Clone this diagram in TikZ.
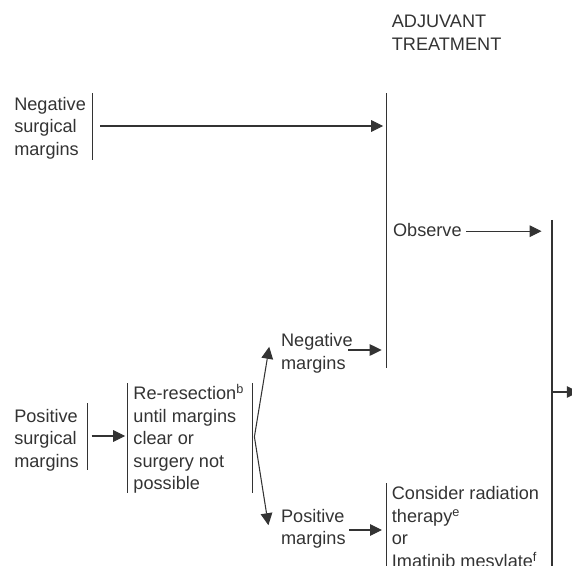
\documentclass[tikz,border=0pt]{standalone}
\usepackage{fontspec}
\setmainfont{Liberation Sans}
\usetikzlibrary{arrows.meta}
\definecolor{ink}{gray}{0.2}

\tikzset{
  txt/.style={inner sep=0pt, anchor=north west, align=left, text=ink,
    font=\fontsize{12.9}{16}\selectfont},
  bar/.style={draw=ink, line width=0.75pt},
  arr/.style={draw=ink, line width=0.75pt, -{Triangle[length=0.3cm, width=0.29cm]}}
}

\begin{document}
\begin{tikzpicture}
  \useasboundingbox (0cm,0cm) rectangle (14.3cm,-14.125cm);
  \node[txt] (adj) at (9.79cm,-0.37cm) {ADJUVANT\\TREATMENT};
  \node[txt] (negsm) at (0.35cm,-2.42cm) {Negative\\surgical\\margins};
  \node[txt] (obs) at (9.82cm,-5.58cm) {Observe};
  \node[txt] (negm) at (7.02cm,-8.33cm) {Negative\\margins};
  \node[txt] (possm) at (0.35cm,-10.22cm) {Positive\\surgical\\margins};
  \node[txt] (reres) at (3.33cm,-9.6cm) {Re-resection\textsuperscript{b}\\until margins\\clear or\\surgery not\\possible};
  \node[txt] (posm) at (7.02cm,-12.72cm) {Positive\\margins};
  \node[txt] (rad) at (9.79cm,-12.16cm) {Consider radiation\\therapy\textsuperscript{e}\\or\\Imatinib mesylate\textsuperscript{f}};
  \coordinate (negbartop) at (2.31cm,-2.33cm);
  \coordinate (negbarbot) at (2.31cm,-4cm);
  \coordinate (adjtop) at (9.66cm,-2.33cm);
  \coordinate (adjbot) at (9.66cm,-9.2cm);
  \coordinate (outtop) at (13.8cm,-5.5cm);
  \coordinate (outbot) at (13.8cm,-14.2cm);
  \coordinate (posbartop) at (2.19cm,-10.08cm);
  \coordinate (posbarbot) at (2.19cm,-11.75cm);
  \coordinate (resltop) at (3.19cm,-9.58cm);
  \coordinate (reslbot) at (3.19cm,-12.33cm);
  \coordinate (resrtop) at (6.31cm,-9.58cm);
  \coordinate (resrbot) at (6.31cm,-12.33cm);
  \coordinate (fan) at (6.36cm,-10.92cm);
  \coordinate (radtop) at (9.67cm,-12.08cm);
  \coordinate (radbot) at (9.67cm,-14.2cm);
  \coordinate (outend) at (14.47cm,-9.8cm);
  \draw[bar] (negbartop) -- (negbarbot);
  \draw[bar] (adjtop) -- (adjbot);
  \draw[bar] (outtop) -- (outbot);
  \draw[bar] (posbartop) -- (posbarbot);
  \draw[bar] (resltop) -- (reslbot);
  \draw[bar] (resrtop) -- (resrbot);
  \draw[bar] (radtop) -- (radbot);
  \draw[arr] (2.5cm,-3.15cm) -- ([xshift=-0.08cm]adjtop |- 0,-3.15cm);
  \draw[arr] (11.65cm,-5.78cm) -- ([xshift=-0.26cm]outtop |- 0,-5.78cm);
  \draw[arr] (outtop |- outend) -- (outend);
  \draw[arr] (2.29cm,-10.9cm) -- ([xshift=-0.06cm]resltop |- 0,-10.9cm);
  \draw[arr] (fan) -- (6.73cm,-8.67cm);
  \draw[arr] (fan) -- (6.71cm,-13.13cm);
  \draw[arr] (8.7cm,-8.75cm) -- ([xshift=-0.12cm]adjtop |- 0,-8.75cm);
  \draw[arr] (8.73cm,-13.25cm) -- ([xshift=-0.12cm]radtop |- 0,-13.25cm);
\end{tikzpicture}
\end{document}
